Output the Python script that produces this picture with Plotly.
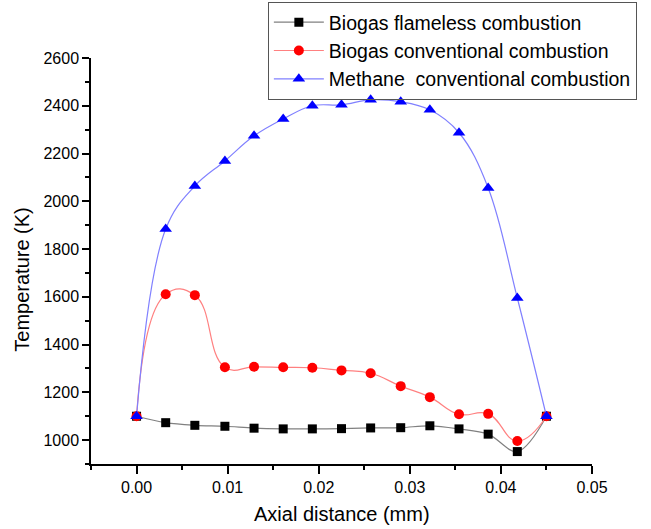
import plotly.graph_objects as go

x_mm = [0.0, 0.0032, 0.0064, 0.0097, 0.0129, 0.0161, 0.0193, 0.0225,
        0.0257, 0.0290, 0.0322, 0.0354, 0.0386, 0.0418, 0.0450]

biogas_flameless = [1100, 1073, 1062, 1058, 1050, 1047, 1047, 1048,
                    1051, 1052, 1060, 1047, 1025, 952, 1100]
biogas_conventional = [1100, 1611, 1607, 1305, 1307, 1305, 1303, 1292,
                       1280, 1226, 1180, 1108, 1110, 996, 1100]
methane_conventional = [1100, 1884, 2064, 2169, 2274, 2345, 2400, 2404,
                        2425, 2417, 2383, 2287, 2056, 1595, 1100]

names = ["Biogas flameless combustion",
         "Biogas conventional combustion",
         "Methane  conventional combustion"]

FONT = "Arial, Liberation Sans, sans-serif"

fig = go.Figure()
series = [
    (biogas_flameless, "#808080", "black", "square", 9, 1.0),
    (biogas_conventional, "#ff8080", "#ff0000", "circle", 10, 1.3),
    (methane_conventional, "#8080ff", "#0000ff", "triangle-up", 11, 1.1),
]
for (vals, lc, mc, sym, ms, sm), nm in zip(series, names):
    fig.add_trace(go.Scatter(
        x=x_mm, y=vals, name=nm, mode="lines+markers",
        line=dict(color=lc, width=1.2, shape="spline", smoothing=sm),
        marker=dict(color=mc, symbol=sym, size=ms, line=dict(width=0)),
    ))

fig.update_layout(
    width=651, height=529,
    margin=dict(l=91, r=59, t=58, b=65, autoexpand=False),
    paper_bgcolor="white", plot_bgcolor="white",
    font=dict(family=FONT, color="black"),
    showlegend=True,
    legend=dict(
        x=0.353, y=1.138, xanchor="left", yanchor="top",
        bgcolor="rgba(255,255,255,0)", bordercolor="#555555", borderwidth=1,
        font=dict(size=19.5, family=FONT, color="black"),
        tracegroupgap=0, itemwidth=50,
    ),
    xaxis=dict(
        range=[-0.005, 0.05], tickvals=[0, 0.01, 0.02, 0.03, 0.04, 0.05],
        ticktext=["0.00", "0.01", "0.02", "0.03", "0.04", "0.05"],
        showgrid=False, zeroline=False, showline=True, linecolor="black",
        linewidth=1.5, ticks="outside", ticklen=8, tickwidth=1.5,
        tickcolor="black", tickfont=dict(size=16, family=FONT),
        minor=dict(dtick=0.005, tick0=0, ticks="outside", ticklen=4,
                   tickwidth=1.5, tickcolor="black", showgrid=False),
    ),
    yaxis=dict(
        range=[900, 2600], tickvals=list(range(1000, 2601, 200)),
        showgrid=False, zeroline=False, showline=True, linecolor="black",
        linewidth=1.5, ticks="outside", ticklen=7, tickwidth=1.5,
        tickcolor="black", tickfont=dict(size=16, family=FONT),
        minor=dict(dtick=100, tick0=900, ticks="outside", ticklen=4,
                   tickwidth=1.5, tickcolor="black", showgrid=False),
    ),
    annotations=[
        dict(text="Axial distance (mm)", xref="paper", yref="paper",
             x=0.5, y=-0.123, xanchor="center", yanchor="middle",
             showarrow=False, font=dict(size=20, family=FONT)),
        dict(text="Temperature (K)", xref="paper", yref="paper",
             x=-0.138, y=0.456, xanchor="center", yanchor="middle",
             textangle=-90, showarrow=False, font=dict(size=20, family=FONT)),
    ],
)

fig.write_html("out.html")
